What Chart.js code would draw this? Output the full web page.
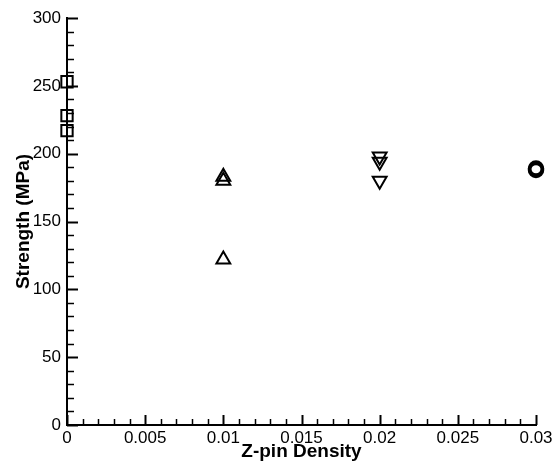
<!DOCTYPE html>
<html>
<head>
<meta charset="utf-8">
<script src="https://cdn.jsdelivr.net/npm/chart.js@4/dist/chart.umd.min.js"></script>
<style>
  html, body { margin: 0; padding: 0; background: #fff; }
  #wrap { width: 558px; height: 465px; }
</style>
</head>
<body>
<div id="wrap"><canvas id="myChart" width="558" height="465"></canvas></div>
<script>
// Strength vs. z-pin density, one group of specimens per density
let squareX = [0, 0, 0];
let squareY = [253, 228, 217];
let triUpX = [0.01, 0.01, 0.01];
let triUpY = [183, 180, 122];
let triDownX = [0.02, 0.02, 0.02];
let triDownY = [198, 194, 180];
let circleX = [0.03, 0.03];
let circleY = [189, 188];

let xMajor = [0, 0.005, 0.01, 0.015, 0.02, 0.025, 0.03];
let yMajor = [0, 50, 100, 150, 200, 250, 300];

function pts(xs, ys) {
    return xs.map((x, i) => ({x: x, y: ys[i]}));
}

// inward major/minor tick marks, Tecplot style
const innerTicks = {
    id: 'innerTicks',
    beforeDatasetsDraw(chart) {
        const ctx = chart.ctx;
        const xs = chart.scales.x, ys = chart.scales.y;
        const left = xs.left, bottom = ys.bottom;
        ctx.save();
        ctx.strokeStyle = '#000';
        // x axis: minor every 0.001
        for (let i = 0; i <= 30; i++) {
            const v = i / 1000;
            const px = Math.round(xs.getPixelForValue(v)) + 0.5;
            const major = i % 5 === 0;
            ctx.lineWidth = major ? 2 : 1.5;
            ctx.beginPath();
            ctx.moveTo(px, bottom);
            ctx.lineTo(px, bottom - (major ? 10 : 6));
            ctx.stroke();
        }
        // y axis: minor every 10
        for (let v = 0; v <= 300; v += 10) {
            const py = Math.round(ys.getPixelForValue(v)) + 0.5;
            const major = v % 50 === 0;
            ctx.lineWidth = major ? 2 : 1.5;
            ctx.beginPath();
            ctx.moveTo(left, py);
            ctx.lineTo(left + (major ? 11 : 7), py);
            ctx.stroke();
        }
        ctx.restore();
    }
};

const ctx = document.getElementById('myChart').getContext('2d');

let common = {
    borderColor: '#000',
    backgroundColor: 'rgba(0,0,0,0)',
    borderWidth: 2,
    clip: false
};

let chart = new Chart(ctx, {
    type: 'scatter',
    data: {
        datasets: [
            Object.assign({label: 'd0', data: pts(squareX, squareY), pointStyle: 'rect', pointRadius: 8}, common),
            Object.assign({label: 'd1', data: pts(triUpX, triUpY), pointStyle: 'triangle', pointRadius: 8}, common),
            Object.assign({label: 'd2', data: pts(triDownX, triDownY), pointStyle: 'triangle', rotation: 180, pointRadius: 8}, common),
            Object.assign({label: 'd3', data: pts(circleX, circleY), pointStyle: 'circle', pointRadius: 6.5}, common, {borderWidth: 3.5})
        ]
    },
    options: {
        responsive: false,
        animation: false,
        events: [],
        layout: { padding: { top: 18, right: 22, left: 0, bottom: 0 } },
        plugins: {
            legend: { display: false },
            tooltip: { enabled: false }
        },
        scales: {
            x: {
                type: 'linear',
                min: 0,
                max: 0.03,
                afterBuildTicks: (s) => { s.ticks = xMajor.map(v => ({value: v})); },
                afterFit: (s) => { s.height = 40; },
                grid: { display: false, drawTicks: false },
                border: { display: true, color: '#000', width: 2 },
                ticks: {
                    color: '#000',
                    padding: 3,
                    maxRotation: 0,
                    autoSkip: false,
                    font: { family: 'Liberation Sans', size: 17 },
                    callback: (v) => String(Number(v.toFixed(3)))
                },
                title: {
                    display: true,
                    text: 'Z-pin Density',
                    color: '#000',
                    padding: { top: 0, bottom: 2 },
                    font: { family: 'Liberation Sans', size: 19, weight: 'bold' }
                }
            },
            y: {
                type: 'linear',
                min: 0,
                max: 300,
                afterBuildTicks: (s) => { s.ticks = yMajor.map(v => ({value: v})); },
                afterFit: (s) => { s.width = 67; },
                grid: { display: false, drawTicks: false },
                border: { display: true, color: '#000', width: 2 },
                ticks: {
                    color: '#000',
                    padding: 6,
                    autoSkip: false,
                    font: { family: 'Liberation Sans', size: 17 }
                },
                title: {
                    display: true,
                    text: 'Strength (MPa)',
                    color: '#000',
                    padding: { top: 12, bottom: 0 },
                    font: { family: 'Liberation Sans', size: 19, weight: 'bold' }
                }
            }
        }
    },
    plugins: [innerTicks]
});
</script>
</body>
</html>
